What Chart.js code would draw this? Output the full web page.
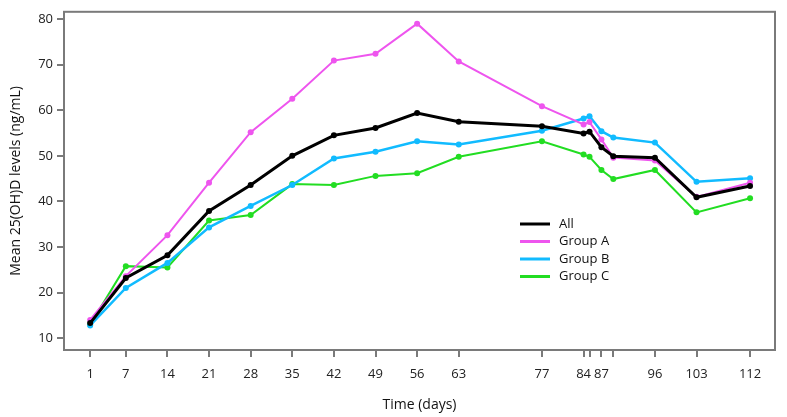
<!DOCTYPE html>
<html>
<head>
<meta charset="utf-8">
<script src="https://cdn.jsdelivr.net/npm/chart.js@4"></script>
<style>
  html, body { margin: 0; padding: 0; background: #fff; }
  #wrap { width: 787px; height: 417px; }
</style>
</head>
<body>
<div id="wrap"><canvas id="myChart"></canvas></div>
<script>
const days = [1, 7, 14, 21, 28, 35, 42, 49, 56, 63, 77, 84, 85, 87, 89, 96, 103, 112];
const allValues = [13.3, 23.2, 28.2, 37.9, 43.6, 50.0, 54.5, 56.1, 59.4, 57.5, 56.5, 54.9, 55.3, 51.9, 49.9, 49.6, 40.9, 43.4];
const groupA = [14.0, 23.6, 32.6, 44.1, 55.2, 62.5, 70.9, 72.4, 79.0, 70.7, 60.9, 56.9, 57.4, 53.6, 49.6, 49.0, 41.0, 44.1];
const groupB = [12.8, 21.0, 26.5, 34.3, 39.0, 43.6, 49.4, 50.9, 53.2, 52.5, 55.5, 58.2, 58.7, 55.4, 54.0, 52.9, 44.3, 45.1];
const groupC = [13.0, 25.8, 25.5, 35.8, 37.0, 43.8, 43.6, 45.6, 46.2, 49.8, 53.2, 50.3, 49.8, 46.9, 44.9, 46.9, 37.6, 40.7];

const xTicks = [1, 7, 14, 21, 28, 35, 42, 49, 56, 63, 77, 84, 85, 87, 89, 96, 103, 112];
const xLabels = [1, 7, 14, 21, 28, 35, 42, 49, 56, 63, 77, 84, 87, 96, 103, 112];
const yTicks = [10, 20, 30, 40, 50, 60, 70, 80];

const toPoints = (vals) => vals.map((v, i) => ({ x: days[i], y: v }));

const series = [
  { label: "All", data: allValues, color: "#000000", width: 3 },
  { label: "Group A", data: groupA, color: "#ee55ee", width: 2 },
  { label: "Group B", data: groupB, color: "#11bbff", width: 2.5 },
  { label: "Group C", data: groupC, color: "#22dd22", width: 2 },
];

const frameColor = "#7a7a7a";
const fontFamily = "'Open Sans', 'Noto Sans', sans-serif";

// draws the box round the plot and the legend inside it
const framePlugin = {
  id: "frame",
  afterDatasetsDraw(chart) {
    const { ctx, chartArea } = chart;
    ctx.save();
    ctx.strokeStyle = frameColor;
    ctx.lineWidth = 2;
    ctx.strokeRect(chartArea.left, chartArea.top, chartArea.right - chartArea.left, chartArea.bottom - chartArea.top);

    ctx.font = "13px " + fontFamily;
    ctx.textBaseline = "middle";
    ctx.fillStyle = "#111";
    chart.data.datasets.forEach((ds, i) => {
      const y = 224 + i * 17.5;
      ctx.strokeStyle = ds.borderColor;
      ctx.lineWidth = 3;
      ctx.beginPath();
      ctx.moveTo(520, y);
      ctx.lineTo(550, y);
      ctx.stroke();
      ctx.fillText(ds.label, 559, y);
    });
    ctx.restore();
  },
};

new Chart(document.getElementById("myChart"), {
  type: "line",
  data: {
    datasets: series.map((s) => ({
      label: s.label,
      data: toPoints(s.data),
      borderColor: s.color,
      backgroundColor: s.color,
      borderWidth: s.width,
      pointRadius: 3,
      pointBorderWidth: 0,
      tension: 0,
    })),
  },
  options: {
    responsive: true,
    maintainAspectRatio: false,
    animation: false,
    layout: { padding: { top: 10, right: 12, left: 0, bottom: 0 } },
    plugins: {
      legend: { display: false },
      tooltip: { enabled: false },
    },
    scales: {
      x: {
        type: "linear",
        min: -3.4,
        max: 116.2,
        afterBuildTicks: (scale) => {
          scale.ticks = xTicks.map((v) => ({ value: v }));
        },
        afterFit: (scale) => {
          scale.height = 67;
        },
        ticks: {
          autoSkip: false,
          maxRotation: 0,
          padding: 9,
          color: "#222",
          font: { size: 13, family: fontFamily },
          callback: (v) => (xLabels.includes(v) ? String(v) : ""),
        },
        grid: {
          drawOnChartArea: false,
          drawTicks: true,
          tickLength: 7,
          color: frameColor,
          lineWidth: 2,
        },
        border: { display: false },
        title: {
          display: true,
          text: "Time (days)",
          color: "#111",
          font: { size: 14, family: fontFamily },
          padding: { top: 4 },
        },
      },
      y: {
        min: 7.4,
        max: 81.6,
        afterBuildTicks: (scale) => {
          scale.ticks = yTicks.map((v) => ({ value: v }));
        },
        afterFit: (scale) => {
          scale.width = 64;
        },
        ticks: {
          padding: 4,
          color: "#222",
          font: { size: 13, family: fontFamily },
        },
        grid: {
          drawOnChartArea: false,
          drawTicks: true,
          tickLength: 7,
          color: frameColor,
          lineWidth: 2,
        },
        border: { display: false },
        title: {
          display: true,
          text: "Mean 25(OH)D levels (ng/mL)",
          color: "#111",
          font: { size: 14, family: fontFamily },
          padding: { top: 8, bottom: 0 },
        },
      },
    },
  },
  plugins: [framePlugin],
});
</script>
</body>
</html>
